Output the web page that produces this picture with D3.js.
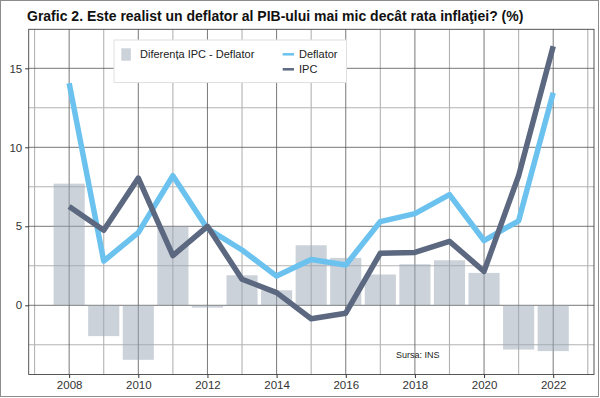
<!DOCTYPE html>
<html>
  <head>
    <meta charset="utf-8">
    <script src="https://d3js.org/d3.v7.min.js"></script>
    <style>
      body { margin: 0; background: #fff; }
      svg text { font-family: "Liberation Sans", Arial, sans-serif; }
    </style>
  </head>
  <body>
    <div id="chart"></div>
    <script>
      // data
      const years = [2008, 2009, 2010, 2011, 2012, 2013, 2014, 2015, 2016, 2017, 2018, 2019, 2020, 2021, 2022];
      const deflator = [14.05, 2.8, 4.6, 8.2, 4.85, 3.5, 1.85, 2.9, 2.55, 5.3, 5.8, 7.0, 4.1, 5.35, 13.45];
      const ipc = [6.25, 4.75, 8.05, 3.15, 5.0, 1.65, 0.8, -0.85, -0.5, 3.3, 3.35, 4.05, 2.15, 8.2, 16.4];
      const diferenta = [7.7, -1.95, -3.45, 5.0, -0.15, 1.9, 0.95, 3.8, 3.0, 1.95, 2.6, 2.85, 2.05, -2.8, -2.9];
      const yTicks = [0, 5, 10, 15];
      const yMinor = [-2.5, 2.5, 7.5, 12.5];
      const xTicks = [2008, 2010, 2012, 2014, 2016, 2018, 2020, 2022];
      const xMinor = [2007, 2009, 2011, 2013, 2015, 2017, 2019, 2021, 2023];

      const width = 600, height = 398;
      const panel = {left: 28.7, right: 594, top: 29.3, bottom: 374.5};

      const svg = d3.create('svg')
        .attr('width', width)
        .attr('height', height);

      // outer frame
      svg.append('rect')
        .attr('x', 0.5).attr('y', 0.5)
        .attr('width', width - 2).attr('height', height - 2)
        .attr('fill', '#fff')
        .attr('stroke', '#8c8c8c');

      svg.append('text')
        .attr('x', 27).attr('y', 21)
        .attr('font-size', '14px')
        .attr('font-weight', 'bold')
        .attr('fill', '#111')
        .text('Grafic 2. Este realist un deflator al PIB-ului mai mic decât rata inflaţiei? (%)');

      const x = d3.scaleLinear()
        .domain([2006.83, 2023.18])
        .range([panel.left, panel.right]);

      const y = d3.scaleLinear()
        .domain([-4.38, 17.47])
        .range([panel.bottom, panel.top]);

      // grid
      const grid = svg.append('g');
      xMinor.forEach(v => grid.append('line')
        .attr('x1', x(v)).attr('x2', x(v))
        .attr('y1', panel.top).attr('y2', panel.bottom)
        .attr('stroke', '#b3b3b3').attr('stroke-width', 1.1));
      yMinor.forEach(v => grid.append('line')
        .attr('x1', panel.left).attr('x2', panel.right)
        .attr('y1', y(v)).attr('y2', y(v))
        .attr('stroke', '#b3b3b3').attr('stroke-width', 1.1));
      xTicks.forEach(v => grid.append('line')
        .attr('x1', x(v)).attr('x2', x(v))
        .attr('y1', panel.top).attr('y2', panel.bottom)
        .attr('stroke', '#555').attr('stroke-width', 0.8));
      yTicks.forEach(v => grid.append('line')
        .attr('x1', panel.left).attr('x2', panel.right)
        .attr('y1', y(v)).attr('y2', y(v))
        .attr('stroke', '#555').attr('stroke-width', 0.8));

      // bars
      svg.append('g')
        .selectAll('rect')
        .data(years.map((yr, i) => ({year: yr, value: diferenta[i]})))
        .join('rect')
          .attr('x', d => x(d.year - 0.45))
          .attr('width', d => x(d.year + 0.45) - x(d.year - 0.45))
          .attr('y', d => y(Math.max(0, d.value)))
          .attr('height', d => Math.abs(y(d.value) - y(0)))
          .attr('fill', '#9aa5b4')
          .attr('fill-opacity', 0.5);

      const line = d3.line()
        .x(d => x(d.year))
        .y(d => y(d.value));

      const series = [
        {name: 'Deflator', values: deflator, color: '#6cc2ee'},
        {name: 'IPC', values: ipc, color: '#5b6880'}
      ];

      series.forEach(s => {
        svg.append('path')
          .datum(years.map((yr, i) => ({year: yr, value: s.values[i]})))
          .attr('d', line)
          .attr('fill', 'none')
          .attr('stroke', s.color)
          .attr('stroke-width', 5.5)
          .attr('stroke-linejoin', 'round');
      });

      // panel border
      svg.append('rect')
        .attr('x', panel.left).attr('y', panel.top)
        .attr('width', panel.right - panel.left)
        .attr('height', panel.bottom - panel.top)
        .attr('fill', 'none')
        .attr('stroke', '#444')
        .attr('stroke-width', 0.9);

      // axes
      const yAxis = svg.append('g')
        .attr('transform', `translate(${panel.left},0)`)
        .call(d3.axisLeft(y).tickValues(yTicks).tickSize(3.5).tickPadding(3));
      const xAxis = svg.append('g')
        .attr('transform', `translate(0,${panel.bottom})`)
        .call(d3.axisBottom(x).tickValues(xTicks).tickFormat(d3.format('d')).tickSize(3.5).tickPadding(3));
      [yAxis, xAxis].forEach(a => {
        a.select('.domain').remove();
        a.selectAll('line').attr('stroke', '#333');
        a.selectAll('text')
          .attr('font-size', '11.5px')
          .attr('font-family', '"Liberation Sans", Arial, sans-serif')
          .attr('fill', '#333');
      });

      // legend
      const legend = svg.append('g');
      legend.append('rect')
        .attr('x', 114).attr('y', 40)
        .attr('width', 232.5).attr('height', 42.5)
        .attr('fill', '#fff')
        .attr('stroke', '#e0e0e0');
      legend.append('rect')
        .attr('x', 121.3).attr('y', 48.3)
        .attr('width', 9.5).attr('height', 12.4)
        .attr('fill', '#9aa5b4').attr('fill-opacity', 0.5);
      legend.append('text')
        .attr('x', 140).attr('y', 58.3)
        .attr('font-size', '11px')
        .attr('fill', '#222')
        .text('Diferența IPC - Deflator');
      series.forEach((s, i) => {
        const ly = 54.3 + i * 15;
        legend.append('line')
          .attr('x1', 282.7).attr('x2', 294)
          .attr('y1', ly).attr('y2', ly)
          .attr('stroke', s.color)
          .attr('stroke-width', 2.5);
        legend.append('text')
          .attr('x', 299).attr('y', ly + 3.7)
          .attr('font-size', '11px')
          .attr('fill', '#222')
          .text(s.name);
      });

      svg.append('text')
        .attr('x', 396).attr('y', 357.5)
        .attr('font-size', '9px')
        .attr('fill', '#222')
        .text('Sursa: INS');

      document.getElementById('chart').appendChild(svg.node());
    </script>
  </body>
</html>
